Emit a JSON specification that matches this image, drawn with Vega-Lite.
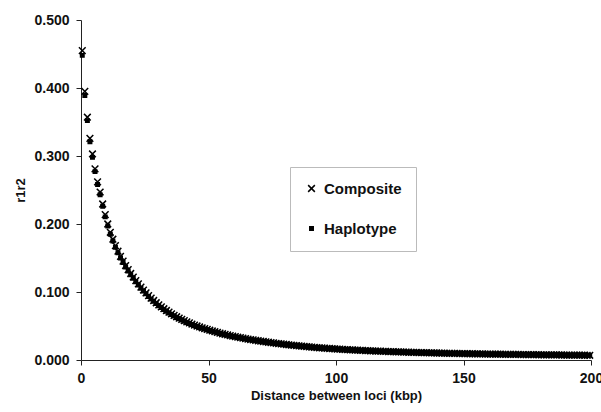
{
"$schema":"https://vega.github.io/schema/vega-lite/v6.json",
"width":510,"height":340,
"autosize":{"type":"none"},
"padding":{"left":81,"top":20,"right":10,"bottom":52},
"background":"white",
"config":{"view":{"stroke":null},"font":"Liberation Sans",
"axis":{"grid":false,"domainColor":"#222","tickColor":"#222","tickSize":5,"labelFont":"Liberation Sans","labelFontWeight":"bold","labelFontSize":14,"labelColor":"#111","titleFont":"Liberation Sans","titleFontWeight":"bold","titleFontSize":13,"titleColor":"#111"},
"legend":{"labelFont":"Liberation Sans","labelFontWeight":"bold","labelFontSize":15,"labelColor":"#111"}},
"data":{"values":[
{"d":0.5,"c":0.455,"h":0.448},{"d":1.5,"c":0.395,"h":0.389},{"d":2.5,"c":0.357,"h":0.352},{"d":3.5,"c":0.326,"h":0.321},{"d":4.5,"c":0.303,"h":0.298},
{"d":5.5,"c":0.281,"h":0.277},{"d":6.5,"c":0.262,"h":0.258},{"d":7.5,"c":0.247,"h":0.243},{"d":8.5,"c":0.2294,"h":0.226},{"d":9.5,"c":0.2137,"h":0.2105},
{"d":10.5,"c":0.2,"h":0.197},{"d":11.5,"c":0.1878,"h":0.185},{"d":12.5,"c":0.1776,"h":0.1749},{"d":13.5,"c":0.1681,"h":0.1656},{"d":14.5,"c":0.16,"h":0.1576},
{"d":15.5,"c":0.1523,"h":0.15},{"d":16.5,"c":0.1455,"h":0.1433},{"d":17.5,"c":0.1389,"h":0.1368},{"d":18.5,"c":0.133,"h":0.131},{"d":19.5,"c":0.1272,"h":0.1253},
{"d":20.5,"c":0.122,"h":0.1202},{"d":21.5,"c":0.1167,"h":0.115},{"d":22.5,"c":0.112,"h":0.1103},{"d":23.5,"c":0.1072,"h":0.1056},{"d":24.5,"c":0.1029,"h":0.1014},
{"d":25.5,"c":0.0988,"h":0.0973},{"d":26.5,"c":0.0947,"h":0.0933},{"d":27.5,"c":0.0909,"h":0.0895},{"d":28.5,"c":0.0875,"h":0.0862},{"d":29.5,"c":0.0842,"h":0.0829},
{"d":30.5,"c":0.0811,"h":0.0799},{"d":31.5,"c":0.0782,"h":0.077},{"d":32.5,"c":0.0754,"h":0.0743},{"d":33.5,"c":0.0728,"h":0.0717},{"d":34.5,"c":0.0703,"h":0.0692},
{"d":35.5,"c":0.068,"h":0.067},{"d":36.5,"c":0.0657,"h":0.0647},{"d":37.5,"c":0.0636,"h":0.0626},{"d":38.5,"c":0.0616,"h":0.0607},{"d":39.5,"c":0.0597,"h":0.0588},
{"d":40.5,"c":0.0579,"h":0.057},{"d":41.5,"c":0.0561,"h":0.0553},{"d":42.5,"c":0.0545,"h":0.0537},{"d":43.5,"c":0.0529,"h":0.0521},{"d":44.5,"c":0.0514,"h":0.0506},
{"d":45.5,"c":0.05,"h":0.0492},{"d":46.5,"c":0.0486,"h":0.0479},{"d":47.5,"c":0.0474,"h":0.0467},{"d":48.5,"c":0.0461,"h":0.0454},{"d":49.5,"c":0.045,"h":0.0443},
{"d":50.5,"c":0.0438,"h":0.0431},{"d":51.5,"c":0.0427,"h":0.0421},{"d":52.5,"c":0.0416,"h":0.041},{"d":53.5,"c":0.0406,"h":0.04},{"d":54.5,"c":0.0396,"h":0.039},
{"d":55.5,"c":0.0386,"h":0.038},{"d":56.5,"c":0.0377,"h":0.0371},{"d":57.5,"c":0.0368,"h":0.0362},{"d":58.5,"c":0.0359,"h":0.0354},{"d":59.5,"c":0.0351,"h":0.0346},
{"d":60.5,"c":0.0343,"h":0.0338},{"d":61.5,"c":0.0335,"h":0.033},{"d":62.5,"c":0.0328,"h":0.0323},{"d":63.5,"c":0.0321,"h":0.0316},{"d":64.5,"c":0.0314,"h":0.0309},
{"d":65.5,"c":0.0307,"h":0.0302},{"d":66.5,"c":0.0301,"h":0.0296},{"d":67.5,"c":0.0295,"h":0.0291},{"d":68.5,"c":0.0289,"h":0.0285},{"d":69.5,"c":0.0283,"h":0.0279},
{"d":70.5,"c":0.0277,"h":0.0273},{"d":71.5,"c":0.0272,"h":0.0268},{"d":72.5,"c":0.0266,"h":0.0262},{"d":73.5,"c":0.0261,"h":0.0257},{"d":74.5,"c":0.0256,"h":0.0252},
{"d":75.5,"c":0.0251,"h":0.0247},{"d":76.5,"c":0.0246,"h":0.0242},{"d":77.5,"c":0.0241,"h":0.0237},{"d":78.5,"c":0.0237,"h":0.0233},{"d":79.5,"c":0.0232,"h":0.0229},
{"d":80.5,"c":0.0228,"h":0.0225},{"d":81.5,"c":0.0224,"h":0.0221},{"d":82.5,"c":0.0219,"h":0.0216},{"d":83.5,"c":0.0215,"h":0.0212},{"d":84.5,"c":0.0211,"h":0.0208},
{"d":85.5,"c":0.0207,"h":0.0204},{"d":86.5,"c":0.0204,"h":0.0201},{"d":87.5,"c":0.02,"h":0.0197},{"d":88.5,"c":0.0196,"h":0.0193},{"d":89.5,"c":0.0193,"h":0.019},
{"d":90.5,"c":0.019,"h":0.0187},{"d":91.5,"c":0.0186,"h":0.0183},{"d":92.5,"c":0.0183,"h":0.018},{"d":93.5,"c":0.018,"h":0.0177},{"d":94.5,"c":0.0177,"h":0.0174},
{"d":95.5,"c":0.0174,"h":0.0171},{"d":96.5,"c":0.0172,"h":0.0169},{"d":97.5,"c":0.0169,"h":0.0166},{"d":98.5,"c":0.0166,"h":0.0164},{"d":99.5,"c":0.0163,"h":0.0161},
{"d":100.5,"c":0.0161,"h":0.0159},{"d":101.5,"c":0.0159,"h":0.0157},{"d":102.5,"c":0.0156,"h":0.0154},{"d":103.5,"c":0.0154,"h":0.0152},{"d":104.5,"c":0.0152,"h":0.015},
{"d":105.5,"c":0.015,"h":0.0148},{"d":106.5,"c":0.0148,"h":0.0146},{"d":107.5,"c":0.0146,"h":0.0144},{"d":108.5,"c":0.0144,"h":0.0142},{"d":109.5,"c":0.0142,"h":0.014},
{"d":110.5,"c":0.014,"h":0.0138},{"d":111.5,"c":0.0138,"h":0.0136},{"d":112.5,"c":0.0137,"h":0.0135},{"d":113.5,"c":0.0135,"h":0.0133},{"d":114.5,"c":0.0133,"h":0.0131},
{"d":115.5,"c":0.0132,"h":0.013},{"d":116.5,"c":0.013,"h":0.0128},{"d":117.5,"c":0.0129,"h":0.0127},{"d":118.5,"c":0.0127,"h":0.0125},{"d":119.5,"c":0.0126,"h":0.0124},
{"d":120.5,"c":0.0124,"h":0.0122},{"d":121.5,"c":0.0123,"h":0.0121},{"d":122.5,"c":0.0122,"h":0.012},{"d":123.5,"c":0.012,"h":0.0118},{"d":124.5,"c":0.0119,"h":0.0117},
{"d":125.5,"c":0.0118,"h":0.0116},{"d":126.5,"c":0.0117,"h":0.0115},{"d":127.5,"c":0.0115,"h":0.0113},{"d":128.5,"c":0.0114,"h":0.0112},{"d":129.5,"c":0.0113,"h":0.0111},
{"d":130.5,"c":0.0112,"h":0.011},{"d":131.5,"c":0.0111,"h":0.0109},{"d":132.5,"c":0.011,"h":0.0108},{"d":133.5,"c":0.0109,"h":0.0107},{"d":134.5,"c":0.0108,"h":0.0106},
{"d":135.5,"c":0.0107,"h":0.0105},{"d":136.5,"c":0.0106,"h":0.0104},{"d":137.5,"c":0.0105,"h":0.0103},{"d":138.5,"c":0.0104,"h":0.0102},{"d":139.5,"c":0.0103,"h":0.0101},
{"d":140.5,"c":0.0102,"h":0.01},{"d":141.5,"c":0.0101,"h":0.0099},{"d":142.5,"c":0.01,"h":0.0099},{"d":143.5,"c":0.0099,"h":0.0098},{"d":144.5,"c":0.0098,"h":0.0097},
{"d":145.5,"c":0.0098,"h":0.0096},{"d":146.5,"c":0.0097,"h":0.0095},{"d":147.5,"c":0.0096,"h":0.0095},{"d":148.5,"c":0.0095,"h":0.0094},{"d":149.5,"c":0.0094,"h":0.0093},
{"d":150.5,"c":0.0094,"h":0.0092},{"d":151.5,"c":0.0093,"h":0.0092},{"d":152.5,"c":0.0092,"h":0.0091},{"d":153.5,"c":0.0092,"h":0.009},{"d":154.5,"c":0.0091,"h":0.009},
{"d":155.5,"c":0.009,"h":0.0089},{"d":156.5,"c":0.009,"h":0.0088},{"d":157.5,"c":0.0089,"h":0.0088},{"d":158.5,"c":0.0088,"h":0.0087},{"d":159.5,"c":0.0088,"h":0.0086},
{"d":160.5,"c":0.0087,"h":0.0086},{"d":161.5,"c":0.00866,"h":0.00853},{"d":162.5,"c":0.0086,"h":0.00847},{"d":163.5,"c":0.00855,"h":0.00842},{"d":164.5,"c":0.00849,"h":0.00836},
{"d":165.5,"c":0.00844,"h":0.00831},{"d":166.5,"c":0.00838,"h":0.00825},{"d":167.5,"c":0.00833,"h":0.0082},{"d":168.5,"c":0.00828,"h":0.00815},{"d":169.5,"c":0.00822,"h":0.0081},
{"d":170.5,"c":0.00817,"h":0.00805},{"d":171.5,"c":0.00812,"h":0.008},{"d":172.5,"c":0.00807,"h":0.00795},{"d":173.5,"c":0.00802,"h":0.0079},{"d":174.5,"c":0.00797,"h":0.00785},
{"d":175.5,"c":0.00792,"h":0.0078},{"d":176.5,"c":0.00787,"h":0.00775},{"d":177.5,"c":0.00783,"h":0.00771},{"d":178.5,"c":0.00778,"h":0.00766},{"d":179.5,"c":0.00773,"h":0.00762},
{"d":180.5,"c":0.00769,"h":0.00757},{"d":181.5,"c":0.00764,"h":0.00753},{"d":182.5,"c":0.0076,"h":0.00749},{"d":183.5,"c":0.00755,"h":0.00744},{"d":184.5,"c":0.00751,"h":0.0074},
{"d":185.5,"c":0.00747,"h":0.00736},{"d":186.5,"c":0.00743,"h":0.00732},{"d":187.5,"c":0.00739,"h":0.00728},{"d":188.5,"c":0.00734,"h":0.00723},{"d":189.5,"c":0.0073,"h":0.00719},
{"d":190.5,"c":0.00726,"h":0.00715},{"d":191.5,"c":0.00722,"h":0.00711},{"d":192.5,"c":0.00718,"h":0.00707},{"d":193.5,"c":0.00714,"h":0.00703},{"d":194.5,"c":0.00711,"h":0.007},
{"d":195.5,"c":0.00707,"h":0.00696},{"d":196.5,"c":0.00703,"h":0.00692},{"d":197.5,"c":0.00699,"h":0.00689},{"d":198.5,"c":0.00695,"h":0.00685},{"d":199.5,"c":0.00692,"h":0.00682}
]},
"transform":[{"fold":["c","h"],"as":["series","r"]}],
"mark":{"type":"point","filled":true,"fill":"black","stroke":"black","strokeWidth":1.5,"opacity":1},
"encoding":{
"x":{"field":"d","type":"quantitative","scale":{"domain":[0,200],"nice":false,"zero":false},"axis":{"values":[0,50,100,150,200],"format":"d","title":"Distance between loci (kbp)","labelPadding":6,"titlePadding":4,"labelFlush":false}},
"y":{"field":"r","type":"quantitative","scale":{"domain":[0,0.5],"nice":false},"axis":{"values":[0,0.1,0.2,0.3,0.4,0.5],"format":".3f","title":"r1r2","labelPadding":7,"titlePadding":6}},
"shape":{"field":"series","type":"nominal","scale":{"domain":["c","h"],"range":["M-1,-1L1,1M-1,1L1,-1","square"]},"legend":{"title":null,"labelExpr":"datum.label == 'c' ? 'Composite' : 'Haplotype'","orient":"none","legendX":209,"legendY":147,"padding":14,"rowPadding":24,"labelOffset":5,"strokeColor":"#bbb","encode":{"symbols":{"update":{"stroke":{"value":"black"},"strokeWidth":{"value":1.5},"fill":{"value":"black"},"opacity":{"value":1}}}}}},
"size":{"field":"series","type":"nominal","scale":{"domain":["c","h"],"range":[45,12]},"legend":{"title":null,"labelExpr":"datum.label == 'c' ? 'Composite' : 'Haplotype'","orient":"none","legendX":209,"legendY":147,"padding":14,"rowPadding":24,"labelOffset":5,"strokeColor":"#bbb","encode":{"symbols":{"update":{"stroke":{"value":"black"},"strokeWidth":{"value":1.5},"fill":{"value":"black"},"opacity":{"value":1}}}}}},
"order":{"field":"series","type":"nominal","sort":"ascending"}
}
}
